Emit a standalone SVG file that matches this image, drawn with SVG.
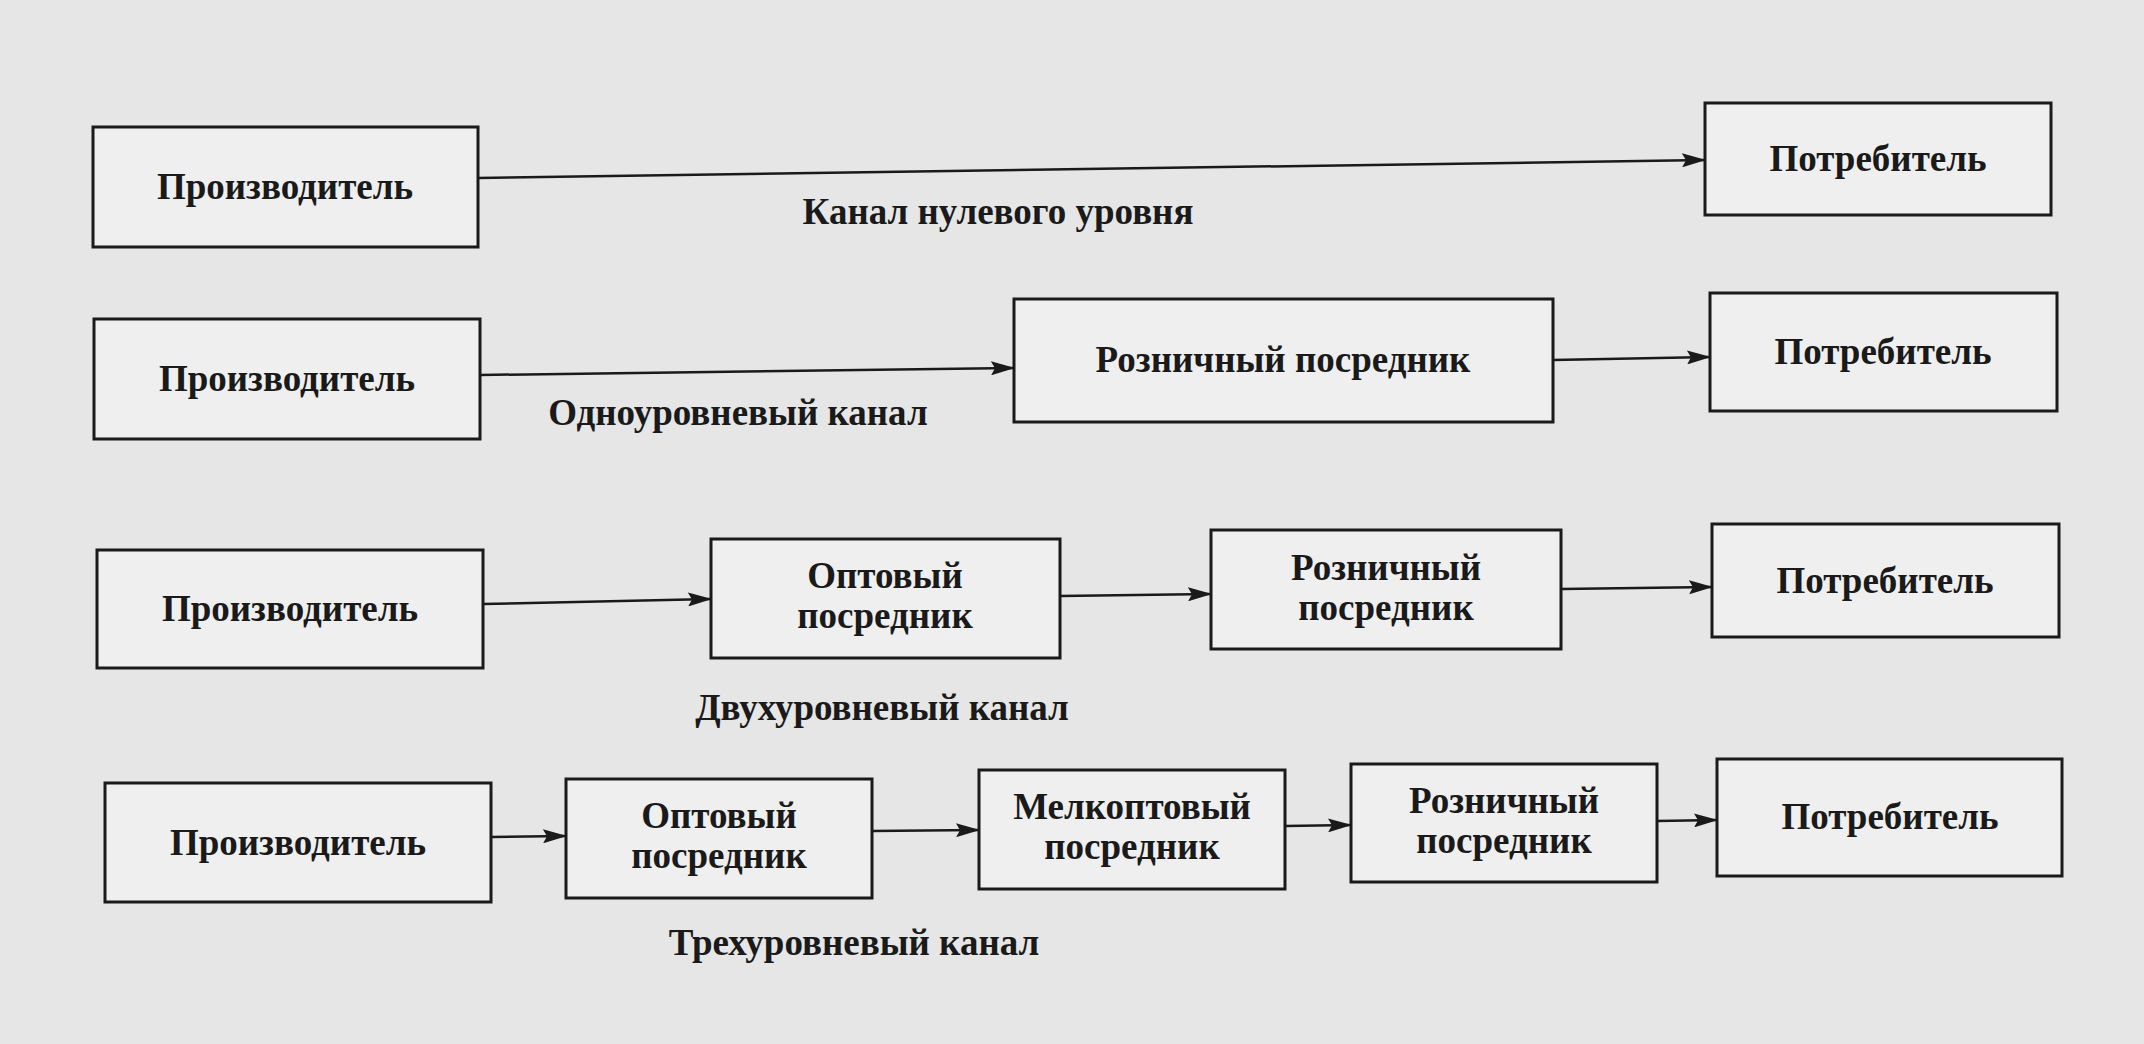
<svg xmlns="http://www.w3.org/2000/svg" width="2144" height="1044" viewBox="0 0 2144 1044">
<style>
.b{fill:#efefef;stroke:#1a1a1a;stroke-width:3}
.t{font-family:"Liberation Serif",serif;font-size:37px;font-weight:bold;fill:#1a1a1a;text-anchor:middle}
.c{stroke:#1a1a1a;stroke-width:2.5;fill:none;marker-end:url(#a)}
</style>
<defs><marker id="a" markerWidth="24" markerHeight="14" refX="23" refY="7" orient="auto" markerUnits="userSpaceOnUse"><path d="M0,0L24,7L0,14L4,7Z" fill="#1a1a1a"/></marker></defs>
<rect width="2144" height="1044" fill="#e6e6e6"/>
<g id="r1p"><rect class="b" x="93" y="127" width="385" height="120"/><text class="t" x="285" y="199">Производитель</text></g>
<g id="r1c"><rect class="b" x="1705" y="103" width="346" height="112"/><text class="t" x="1878" y="171">Потребитель</text></g>
<g id="r2p"><rect class="b" x="94" y="319" width="386" height="120"/><text class="t" x="287" y="391">Производитель</text></g>
<g id="r2r"><rect class="b" x="1014" y="299" width="539" height="123"/><text class="t" x="1283" y="372">Розничный посредник</text></g>
<g id="r2c"><rect class="b" x="1710" y="293" width="347" height="118"/><text class="t" x="1883" y="364">Потребитель</text></g>
<g id="r3p"><rect class="b" x="97" y="550" width="386" height="118"/><text class="t" x="290" y="621">Производитель</text></g>
<g id="r3o"><rect class="b" x="711" y="539" width="349" height="119"/><text class="t" x="885" y="588">Оптовый</text><text class="t" x="885" y="628">посредник</text></g>
<g id="r3r"><rect class="b" x="1211" y="530" width="350" height="119"/><text class="t" x="1386" y="580">Розничный</text><text class="t" x="1386" y="620">посредник</text></g>
<g id="r3c"><rect class="b" x="1712" y="524" width="347" height="113"/><text class="t" x="1885" y="593">Потребитель</text></g>
<g id="r4p"><rect class="b" x="105" y="783" width="386" height="119"/><text class="t" x="298" y="855">Производитель</text></g>
<g id="r4o"><rect class="b" x="566" y="779" width="306" height="119"/><text class="t" x="719" y="828">Оптовый</text><text class="t" x="719" y="868">посредник</text></g>
<g id="r4m"><rect class="b" x="979" y="770" width="306" height="119"/><text class="t" x="1132" y="819">Мелкоптовый</text><text class="t" x="1132" y="859">посредник</text></g>
<g id="r4r"><rect class="b" x="1351" y="764" width="306" height="118"/><text class="t" x="1504" y="813">Розничный</text><text class="t" x="1504" y="853">посредник</text></g>
<g id="r4c"><rect class="b" x="1717" y="759" width="345" height="117"/><text class="t" x="1890" y="829">Потребитель</text></g>
<g id="labels">
<text class="t" x="998" y="224">Канал нулевого уровня</text>
<text class="t" x="738" y="425">Одноуровневый канал</text>
<text class="t" x="882" y="720">Двухуровневый канал</text>
<text class="t" x="854" y="955">Трехуровневый канал</text>
</g>
<g id="connectors">
<path class="c" d="M478,178L1705,160"/>
<path class="c" d="M480,375L1014,368"/>
<path class="c" d="M1553,360L1710,357"/>
<path class="c" d="M483,604L711,599"/>
<path class="c" d="M1060,596L1211,594"/>
<path class="c" d="M1561,589L1712,587"/>
<path class="c" d="M491,837L566,836"/>
<path class="c" d="M872,831L979,830"/>
<path class="c" d="M1285,826L1351,825"/>
<path class="c" d="M1657,821L1717,820"/>
</g>
</svg>
